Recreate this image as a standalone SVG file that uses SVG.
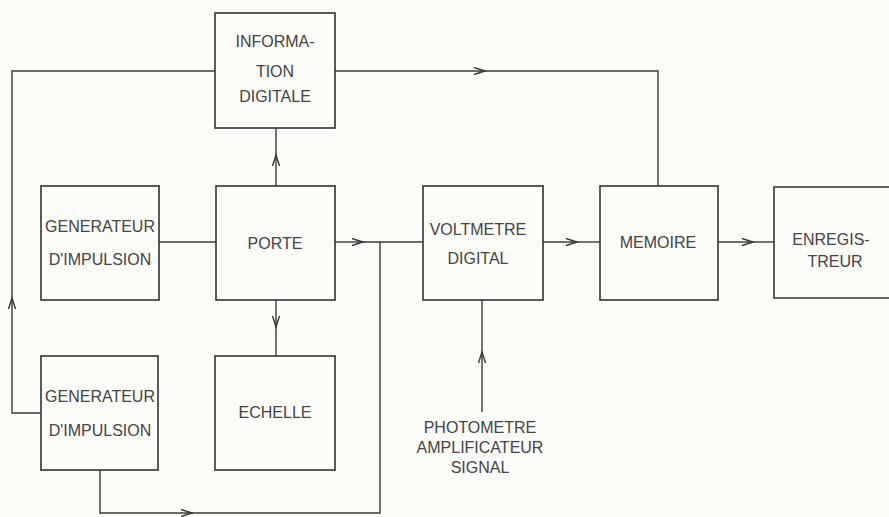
<svg xmlns="http://www.w3.org/2000/svg" width="889" height="517" viewBox="0 0 889 517">
<style>
.box{fill:none;stroke:#333;stroke-width:1.6}
.ln{fill:none;stroke:#3a3a3a;stroke-width:1.4}
.t{font-family:"Liberation Sans",Arial,sans-serif;font-size:16px;fill:#444;text-anchor:middle}
</style>
<defs>
<marker id="ar" markerUnits="userSpaceOnUse" markerWidth="14" markerHeight="10" refX="11" refY="4" orient="auto">
<path d="M0,0.5 L11,4 L0,7.5" fill="none" stroke="#333" stroke-width="1.4"/>
</marker>
</defs>
<rect width="889" height="517" fill="#fbfbf7"/>
<g id="connectors">
<path class="ln" d="M41,413 H12 V298" marker-end="url(#ar)"/>
<path class="ln" d="M12,298 V71 H215"/>
<path class="ln" d="M335,71 H485" marker-end="url(#ar)"/>
<path class="ln" d="M485,71 H658 V186"/>
<path class="ln" d="M159,242 H216"/>
<path class="ln" d="M335,242 H363" marker-end="url(#ar)"/>
<path class="ln" d="M363,242 H423"/>
<path class="ln" d="M100,470 V513 H192" marker-end="url(#ar)"/>
<path class="ln" d="M192,513 H380 V242"/>
<path class="ln" d="M276,186 V155" marker-end="url(#ar)"/>
<path class="ln" d="M276,155 V128"/>
<path class="ln" d="M276,300 V327" marker-end="url(#ar)"/>
<path class="ln" d="M276,327 V356"/>
<path class="ln" d="M543,242 H577" marker-end="url(#ar)"/>
<path class="ln" d="M577,242 H600"/>
<path class="ln" d="M718,242 H753" marker-end="url(#ar)"/>
<path class="ln" d="M753,242 H774"/>
<path class="ln" d="M482,412 V352" marker-end="url(#ar)"/>
<path class="ln" d="M482,352 V300"/>
</g>
<g id="info">
<rect class="box" x="215" y="13" width="120" height="115"/>
<text class="t" x="275" y="47">INFORMA-</text>
<text class="t" x="275" y="77">TION</text>
<text class="t" x="275" y="102">DIGITALE</text>
</g>
<g id="gen1">
<rect class="box" x="41" y="186" width="118" height="114"/>
<text class="t" x="100" y="232">GENERATEUR</text>
<text class="t" x="100" y="265">D'IMPULSION</text>
</g>
<g id="porte">
<rect class="box" x="216" y="186" width="119" height="114"/>
<text class="t" x="275" y="249">PORTE</text>
</g>
<g id="volt">
<rect class="box" x="423" y="186" width="120" height="114"/>
<text class="t" x="478" y="235">VOLTMETRE</text>
<text class="t" x="478" y="264">DIGITAL</text>
</g>
<g id="memoire">
<rect class="box" x="600" y="186" width="118" height="114"/>
<text class="t" x="658" y="248">MEMOIRE</text>
</g>
<g id="enreg">
<path class="box" d="M895,187 H774 V298 H895"/>
<text class="t" x="831" y="245">ENREGIS-</text>
<text class="t" x="835" y="267">TREUR</text>
</g>
<g id="gen2">
<rect class="box" x="41" y="356" width="117" height="114"/>
<text class="t" x="100" y="402">GENERATEUR</text>
<text class="t" x="100" y="436">D'IMPULSION</text>
</g>
<g id="echelle">
<rect class="box" x="215" y="356" width="120" height="114"/>
<text class="t" x="275" y="418">ECHELLE</text>
</g>
<g id="photometre">
<text class="t" x="480" y="433">PHOTOMETRE</text>
<text class="t" x="480" y="453">AMPLIFICATEUR</text>
<text class="t" x="480" y="473">SIGNAL</text>
</g>
</svg>
